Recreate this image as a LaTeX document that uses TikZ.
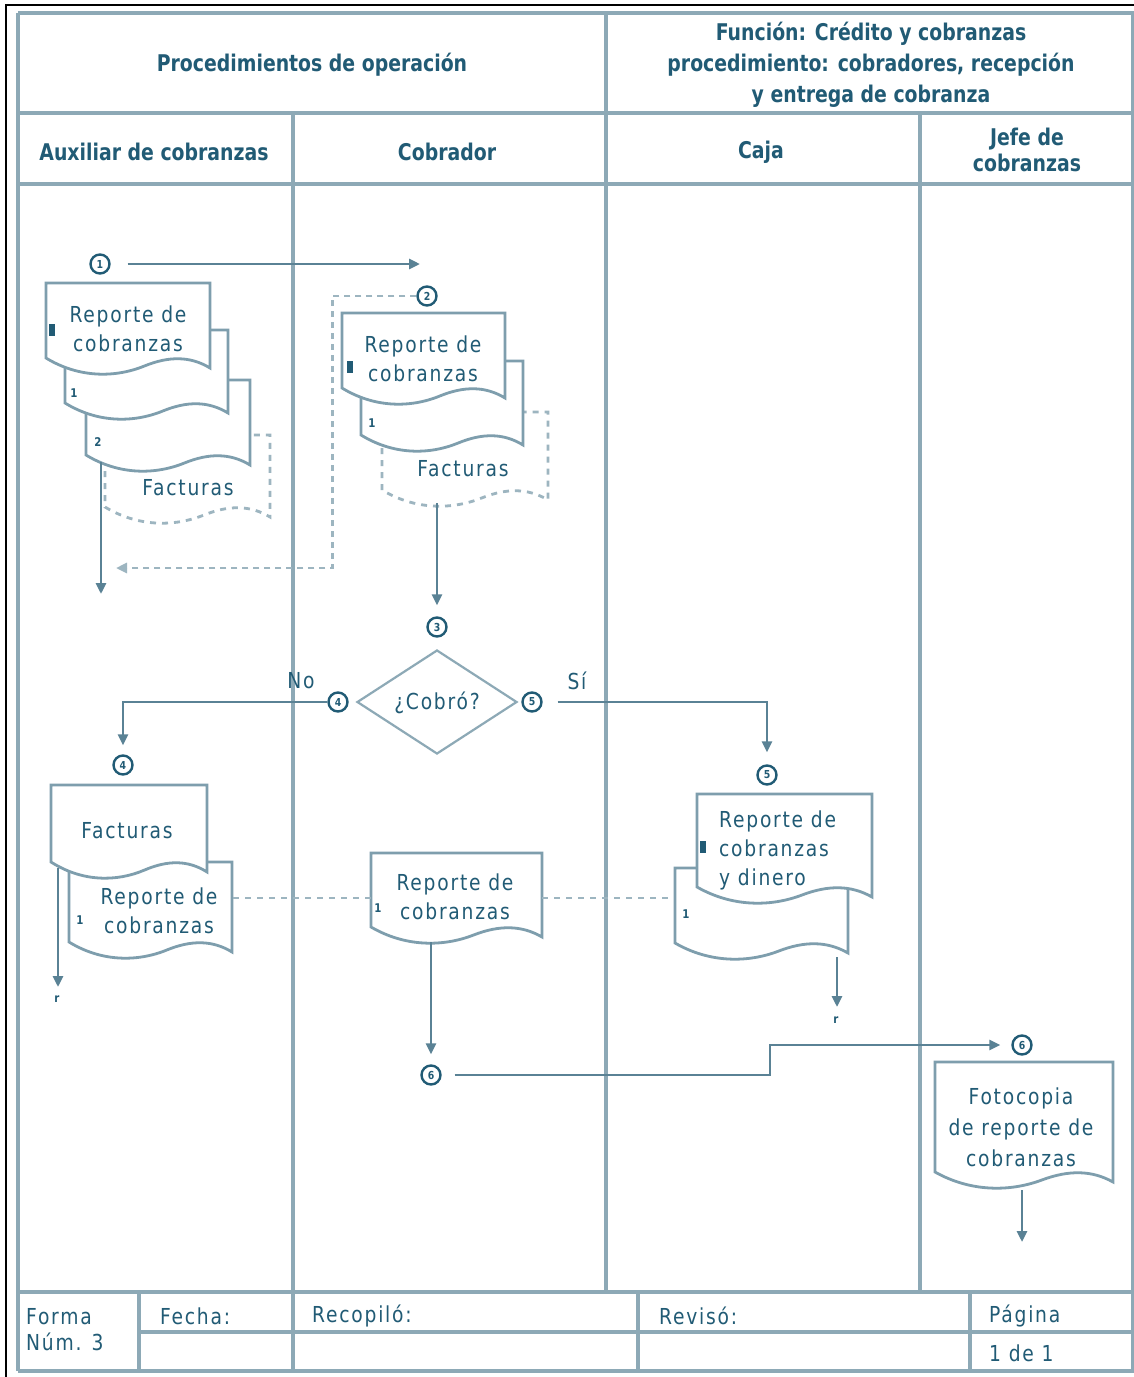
\documentclass[tikz,border=0pt]{standalone}
\usepackage{fontspec}
\setmainfont{DejaVu Sans}[FakeStretch=0.85]
\newfontfamily\bodyfont{DejaVu Sans}[FakeStretch=0.85, LetterSpace=8]
\newfontfamily\hdfont{DejaVu Sans}[FakeStretch=0.82]
\usepackage{tikz}
\usepackage{xcolor}
\usetikzlibrary{shapes.geometric, arrows.meta, positioning, calc}

\definecolor{laneC}{HTML}{8DA9B6}
\definecolor{flowC}{HTML}{5A8295}
\definecolor{txtC}{HTML}{215B75}
\definecolor{docC}{HTML}{7E9EAD}
\definecolor{dashC}{HTML}{9DB5C0}

\tikzset{
  lane/.style={draw=laneC, line width=3.5pt},
  flow/.style={draw=flowC, line width=2.8pt, -{Triangle[length=11pt,width=10pt]}},
  dflow/.style={flow, draw=dashC, dash pattern=on 6pt off 5pt},
  dotline/.style={draw=dashC, line width=2.5pt, dash pattern=on 6pt off 6pt},
  docline/.style={draw=docC, line width=2.8pt, fill=white},
  dashdoc/.style={docline, draw=dashC, dash pattern=on 6pt off 6pt},
  decision/.style={diamond, draw=laneC, line width=2.2pt, fill=white, aspect=1.6,
    inner sep=0pt, minimum width=160pt, minimum height=104pt},
  conn/.style={circle, draw=txtC, line width=2.4pt, fill=white, minimum size=19pt,
    inner sep=0pt, text=txtC, font=\fontsize{11}{11}\selectfont\bfseries},
  txt/.style={text=txtC, align=center, inner sep=0pt,
    font=\bodyfont\fontsize{22}{29}\selectfont},
  hd/.style={text=txtC, align=center, inner sep=0pt,
    font=\hdfont\bfseries\fontsize{23}{31}\selectfont},
  cnum/.style={text=txtC, inner sep=0pt, font=\fontsize{12}{12}\selectfont\bfseries},
  origmark/.style={fill=txtC, inner sep=0pt, minimum width=6pt, minimum height=12pt},
}

% document shape: [style]{x1}{top}{x2}{bottom left}
\newcommand{\docbox}[5][docline]{%
  \pgfmathsetmacro\dw{#4-#2}%
  \path[#1] (#2,#3) -- (#2,#5)
    .. controls ({#2+0.2*\dw},{#5+20}) and ({#2+0.42*\dw},{#5+20}) .. ({#2+0.6*\dw},{#5+8})
    .. controls ({#2+0.75*\dw},{#5-2}) and ({#2+0.88*\dw},{#5-2}) .. (#4,{#5+10})
    -- (#4,#3) -- cycle;}

\begin{document}
\begin{tikzpicture}[x=1pt, y=-1pt]
\fill[white] (0,0) rectangle (1134,1377);
\useasboundingbox (0,0) rectangle (1134,1377);

% frame and table
\draw[black, line width=2pt] (6,1377) -- (6,5) -- (1134,5);
\foreach \yy/\xa in {13/18,113/18,184/18,1292/18,1332/139,1371/18}
  \draw[lane] (\xa,\yy) -- (1134,\yy);
\foreach \xx/\ya/\yb in {18/13/1371,293/113/1371,606/13/1292,920/113/1292,
    139/1292/1371,638/1292/1371,970/1292/1371,1133/13/1371}
  \draw[lane] (\xx,\ya) -- (\xx,\yb);

% headers
\node[hd] (hproc) at (312,65) {Procedimientos de operación};
\node[hd] (hfun) at (871,65) {Función: Crédito y cobranzas\\procedimiento: cobradores, recepción\\y entrega de cobranza};
\node[hd] (haux) at (154,152) {Auxiliar de cobranzas};
\node[hd] (hcob) at (447,152) {Cobrador};
\node[hd] (hcaj) at (761,152) {Caja};
\node[hd, font=\hdfont\bfseries\fontsize{23}{26}\selectfont] (hjef) at (1027,150) {Jefe de\\cobranzas};

% Auxiliar: reporte con copias y facturas
\docbox[dashdoc]{105}{435}{270}{507}
\docbox{86}{380}{250}{455}
\docbox{65}{330}{228}{403}
\docbox{46}{283}{210}{358}
\node[txt] (tRepA) at (128,329) {Reporte de\\cobranzas};
\node[origmark] (oA) at (52,330) {};
\node[cnum] (nA1) at (74,393) {1};
\node[cnum] (nA2) at (98,442) {2};
\node[txt] (tFacA) at (188,488) {Facturas};
\node[conn] (c1) at (100,264) {1};
\coordinate (e1) at (420,264);
\draw[flow, shorten <=17pt] (c1) -- (e1);
\coordinate (a1) at (101,462);
\coordinate (a2) at (101,594);
\draw[flow] (a1) -- (a2);

% Cobrador: reporte y facturas
\docbox[dashdoc]{382}{412}{548}{490}
\docbox{361}{361}{523}{435}
\docbox{342}{313}{505}{388}
\node[txt] (tRepB) at (423,359) {Reporte de\\cobranzas};
\node[origmark] (oB) at (350,367) {};
\node[cnum] (nB1) at (372,423) {1};
\node[txt] (tFacB) at (463,469) {Facturas};
\node[conn] (c2) at (427,296) {2};
\coordinate (d1) at (116,568);
\draw[dflow] (c2.west) -- ++(-84,0) |- (d1);

\node[conn] (c3) at (437,627) {3};
\coordinate (g1) at (437,503);
\draw[flow, shorten >=11pt] (g1) -- (c3);

% decision
\node[decision] (dq) at (437,702) {};
\node[txt] (tq) at (437,703) {¿Cobró?};
\node[conn] (c4) at (338,702) {4};
\node[conn] (c5) at (532,702) {5};
\node[txt] (lno) at (301,681) {No};
\node[txt] (lsi) at (577,681) {Sí};
\node[conn] (c6) at (123,765) {4};
\node[conn] (c7) at (767,775) {5};
\draw[flow, shorten >=9pt] (c4) -| (c6);
\draw[flow, shorten <=15pt, shorten >=12pt] (c5) -| (c7);

% Auxiliar: facturas devueltas
\docbox{69}{862}{232}{942}
\docbox{51}{785}{207}{862}
\node[txt] (tFacC) at (127,831) {Facturas};
\node[txt] (tRepC) at (159,911) {Reporte de\\cobranzas};
\node[cnum] (nC1) at (80,920) {1};
\coordinate (l1) at (58,868);
\coordinate (l2) at (58,987);
\draw[flow] (l1) -- (l2);
\node[cnum] (rC) at (57,999) {r};

% Cobrador: reporte copia
\docbox{371}{853}{542}{927}
\node[txt] (tRepD) at (455,897) {Reporte de\\cobranzas};
\node[cnum] (nD1) at (378,908) {1};
\coordinate (p1) at (233,898);
\coordinate (p2) at (371,898);
\coordinate (p3) at (542,898);
\coordinate (p4) at (675,898);
\draw[dotline] (p1) -- (p2);
\draw[dotline] (p3) -- (p4);
\node[conn] (c8) at (431,1075) {6};
\node[conn] (c9) at (1022,1045) {6};
\coordinate (m1) at (431,942);
\draw[flow, shorten >=10pt] (m1) -- (c8);
\draw[flow, shorten <=13pt, shorten >=11pt] (c8) -- (770,1075) |- (c9);

% Caja
\docbox{675}{868}{848}{943}
\docbox{697}{794}{872}{887}
\node[txt, align=left, anchor=west] (tRepE) at (719,850) {Reporte de\\cobranzas\\y dinero};
\node[origmark] (oE) at (703,847) {};
\node[cnum] (nE1) at (686,914) {1};
\coordinate (k1) at (837,957);
\coordinate (k2) at (837,1007);
\draw[flow] (k1) -- (k2);
\node[cnum] (rE) at (836,1020) {r};

% Jefe de cobranzas
\docbox{935}{1062}{1113}{1172}
\node[txt, font=\bodyfont\fontsize{22}{31}\selectfont] (tFoto) at (1021,1127) {Fotocopia\\de reporte de\\cobranzas};
\coordinate (j1) at (1022,1190);
\coordinate (j2) at (1022,1242);
\draw[flow] (j1) -- (j2);

% footer
\node[txt, align=left, anchor=west, font=\bodyfont\fontsize{22}{26}\selectfont] (fforma) at (26,1330) {Forma\\Núm. 3};
\node[txt, anchor=west] (ffecha) at (160,1316) {Fecha:};
\node[txt, anchor=west] (frecop) at (312,1316) {Recopiló:};
\node[txt, anchor=west] (freviso) at (659,1316) {Revisó:};
\node[txt, anchor=west] (fpag) at (989,1316) {Página};
\node[txt, anchor=west] (fhoja) at (989,1353) {1 de 1};
\end{tikzpicture}
\end{document}
